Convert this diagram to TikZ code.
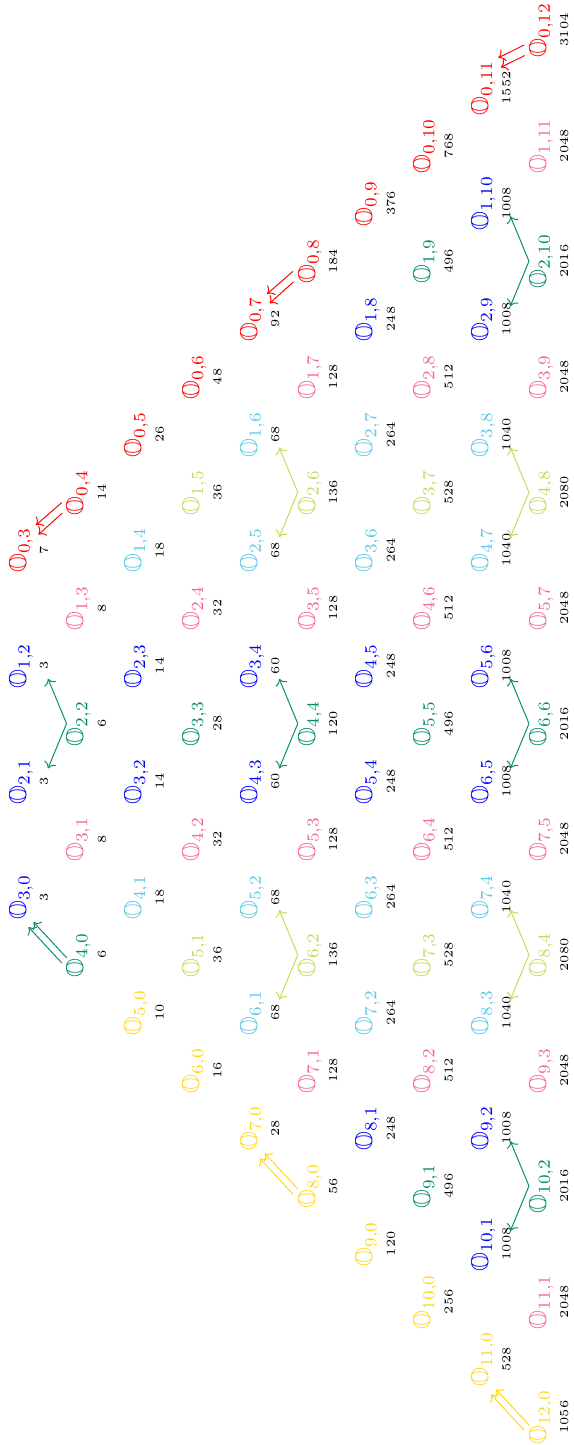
\documentclass[tikz,border=0pt]{standalone}
\usepackage{amssymb}
\usetikzlibrary{arrows.meta,calc}
\definecolor{cR}{RGB}{255,0,0}
\definecolor{cB}{RGB}{0,0,255}
\definecolor{cT}{RGB}{0,140,110}
\definecolor{cP}{RGB}{245,100,160}
\definecolor{cC}{RGB}{90,200,230}
\definecolor{cL}{RGB}{200,215,90}
\definecolor{cY}{RGB}{255,215,30}
\begin{document}
\begin{tikzpicture}[x=0.4115pt,y=0.4115pt,rotate=90,transform shape,
  lab/.style={inner sep=0pt,anchor=base},
  num/.style={inner sep=0pt,anchor=base,font=\tiny,text=black},
  sarr/.style={->,line width=0.4pt}]
\useasboundingbox (-1445,-573) rectangle (0,0);
\foreach \a/\b/\num/\col in {
 3/0/3/B, 2/1/3/B, 1/2/3/B, 0/3/7/R,
 4/0/6/T, 3/1/8/P, 2/2/6/T, 1/3/8/P, 0/4/14/R,
 5/0/10/Y, 4/1/18/C, 3/2/14/B, 2/3/14/B, 1/4/18/C, 0/5/26/R,
 6/0/16/Y, 5/1/36/L, 4/2/32/P, 3/3/28/T, 2/4/32/P, 1/5/36/L, 0/6/48/R,
 7/0/28/Y, 6/1/68/C, 5/2/68/C, 4/3/60/B, 3/4/60/B, 2/5/68/C, 1/6/68/C, 0/7/92/R,
 8/0/56/Y, 7/1/128/P, 6/2/136/L, 5/3/128/P, 4/4/120/T, 3/5/128/P, 2/6/136/L, 1/7/128/P, 0/8/184/R,
 9/0/120/Y, 8/1/248/B, 7/2/264/C, 6/3/264/C, 5/4/248/B, 4/5/248/B, 3/6/264/C, 2/7/264/C, 1/8/248/B, 0/9/376/R,
 10/0/256/Y, 9/1/496/T, 8/2/512/P, 7/3/528/L, 6/4/512/P, 5/5/496/T, 4/6/512/P, 3/7/528/L, 2/8/512/P, 1/9/496/T, 0/10/768/R,
 11/0/528/Y, 10/1/1008/B, 9/2/1008/B, 8/3/1040/C, 7/4/1040/C, 6/5/1008/B, 5/6/1008/B, 4/7/1040/C, 3/8/1040/C, 2/9/1008/B, 1/10/1008/B, 0/11/1552/R,
 12/0/1056/Y, 11/1/2048/P, 10/2/2016/T, 9/3/2048/P, 8/4/2080/L, 7/5/2048/P, 6/6/2016/T, 5/7/2048/P, 4/8/2080/L, 3/9/2048/P, 2/10/2016/T, 1/11/2048/P, 0/12/3104/R}{
  \pgfmathsetmacro{\X}{-897+57.8*(\b-\a+3)}
  \pgfmathsetmacro{\Y}{-26-57.8*(\a+\b-3)}
  \node[lab,text=c\col] (L-\a-\b) at (\X,\Y) {$\mathbb{O}_{\a,\b}$};
  \node[num] (N-\a-\b) at (\X,\Y-22) {\num};
}
% branching arrows
\foreach \a/\b/\col in {2/2/T,4/4/T,6/6/T,10/2/T,2/10/T,6/2/L,2/6/L,8/4/L,4/8/L}{
  \pgfmathtruncatemacro{\am}{\a-1}
  \pgfmathtruncatemacro{\bm}{\b-1}
  \draw[sarr,c\col] (L-\a-\b.north) -- ($(N-\a-\bm.base)+(13,0)$);
  \draw[sarr,c\col] (L-\a-\b.north) -- ($(N-\am-\b.base)+(-13,0)$);
}
% pairs of parallel arrows along the b=0 edge
\foreach \a/\col in {4/T,8/Y,12/Y}{
  \pgfmathtruncatemacro{\am}{\a-1}
  \draw[sarr,c\col] ($(L-\a-0.base west)+(15,22)$) -- ($(L-\am-0.base west)+(-7,-2.5)$);
  \draw[sarr,c\col] ($(L-\a-0.base west)+(20,17)$) -- ($(L-\am-0.base west)+(-2,-7.5)$);
}
% pairs of parallel arrows along the a=0 edge
\foreach \b in {4,8,12}{
  \pgfmathtruncatemacro{\bm}{\b-1}
  \draw[sarr,cR] ($(L-0-\b.base west)+(13,22)$) -- ($(L-0-\bm.base east)+(2,-10)$);
  \draw[sarr,cR] ($(L-0-\b.base west)+(2.5,21.5)$) -- ($(L-0-\bm.base east)+(-7.5,-12.5)$);
}
\end{tikzpicture}
\end{document}
